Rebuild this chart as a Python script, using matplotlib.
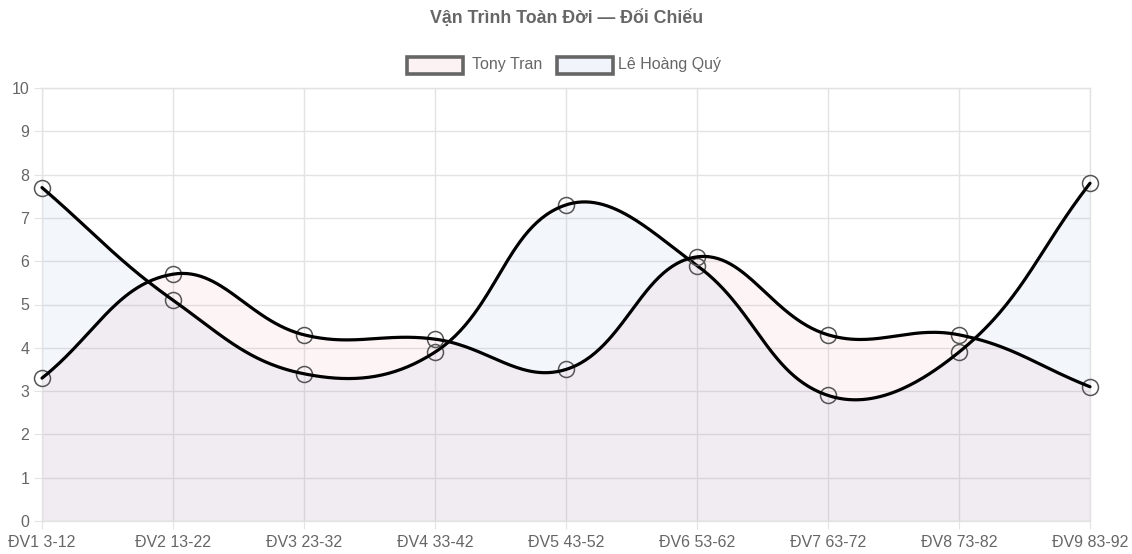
import numpy as np
import matplotlib
matplotlib.use("Agg")
import matplotlib.pyplot as plt
from matplotlib.patches import Rectangle

plt.rcParams['font.family'] = ['Liberation Sans', 'DejaVu Sans']

categories = ["ĐV1 3-12", "ĐV2 13-22", "ĐV3 23-32", "ĐV4 33-42", "ĐV5 43-52",
              "ĐV6 53-62", "ĐV7 63-72", "ĐV8 73-82", "ĐV9 83-92"]
tony = [3.3, 5.7, 4.3, 4.2, 3.5, 6.1, 4.3, 4.3, 3.1]
quy = [7.7, 5.1, 3.4, 3.9, 7.3, 5.9, 2.9, 3.9, 7.8]
series_names = ["Tony Tran", "Lê Hoàng Quý"]
title = "Vận Trình Toàn Đời — Đối Chiếu"

W, H = 1132, 554
fig = plt.figure(figsize=(W / 100, H / 100), dpi=100)
L, R, T, B = 42, 1090, 88, 521
ax = fig.add_axes([L / W, 1 - B / H, (R - L) / W, (B - T) / H])
n = len(categories)
ax.set_xlim(0, n - 1)
ax.set_ylim(0, 10)

grid_c = '#e3e3e3'
ax.set_xticks(range(n))
ax.set_xticklabels(categories)
ax.set_yticks(range(11))
ax.grid(True, color=grid_c, linewidth=1, alpha=1)
ax.set_axisbelow(True)
for s in ax.spines.values():
    s.set_color(grid_c)
    s.set_linewidth(1)
ax.tick_params(axis='both', length=8 * 0.72, color=grid_c, labelcolor='#666666',
               labelsize=11.5)
ax.tick_params(axis='y', pad=3.5)
ax.tick_params(axis='x', pad=4.5)


def spline_path(vals, tension=0.4, samples=60):
    xs = np.arange(len(vals), dtype=float)
    pts = ax.transData.transform(np.column_stack([xs, vals]))
    m = len(pts)
    cps_prev, cps_next = [], []
    for i in range(m):
        cur = pts[i]
        prev = pts[i - 1] if i > 0 else cur
        nxt = pts[i + 1] if i < m - 1 else cur
        d01 = np.hypot(*(cur - prev))
        d12 = np.hypot(*(nxt - cur))
        tot = d01 + d12
        s01 = d01 / tot if tot else 0
        s12 = d12 / tot if tot else 0
        fa, fb = tension * s01, tension * s12
        cps_prev.append(cur - fa * (nxt - prev))
        cps_next.append(cur + fb * (nxt - prev))
    curve = []
    t = np.linspace(0, 1, samples)[:, None]
    for i in range(m - 1):
        p0, p1, p2, p3 = pts[i], cps_next[i], cps_prev[i + 1], pts[i + 1]
        seg = ((1 - t) ** 3) * p0 + 3 * ((1 - t) ** 2) * t * p1 + 3 * (1 - t) * t ** 2 * p2 + t ** 3 * p3
        curve.append(seg if i == 0 else seg[1:])
    curve = np.vstack(curve)
    return ax.transData.inverted().transform(curve)


fills = [(225 / 255, 100 / 255, 125 / 255, 0.065), (60 / 255, 110 / 255, 200 / 255, 0.06)]
legend_fill = ['#fcf2f3', '#f1f5fb']
data = [tony, quy]
# draw Quý first then Tony (Chart.js order)
for k in [1, 0]:
    c = spline_path(data[k])
    ax.fill_between(c[:, 0], 0, c[:, 1], color=fills[k], linewidth=0, zorder=1)
for k in [1, 0]:
    c = spline_path(data[k])
    ax.plot(range(n), data[k], 'o', ms=11.5, mfc='none', mec='#555555', mew=1.1,
            zorder=3 + (1 - k), clip_on=False)
    ax.plot(c[:, 0], c[:, 1], color='black', lw=2.3, zorder=3 + (1 - k),
            solid_capstyle='round', clip_on=False)

fig.text(567 / W, 1 - 18 / H, title, ha='center', va='center', fontsize=12.8,
         fontweight='bold', color='#666666')

# legend
boxes = [(407, 57, 56, 17), (557, 57, 56, 17)]
texts_x = [472, 618]
for (bx, by, bw, bh), tx, name, fc in zip(boxes, texts_x, series_names, legend_fill):
    fig.patches.append(Rectangle((bx / W, 1 - (by + bh) / H), bw / W, bh / H,
                                 transform=fig.transFigure, facecolor=fc,
                                 edgecolor='#666666', linewidth=2.6))
    fig.text(tx / W, 1 - 65 / H, name, ha='left', va='center', fontsize=11.5,
             color='#666666')

fig.savefig('out.png', dpi=100)
